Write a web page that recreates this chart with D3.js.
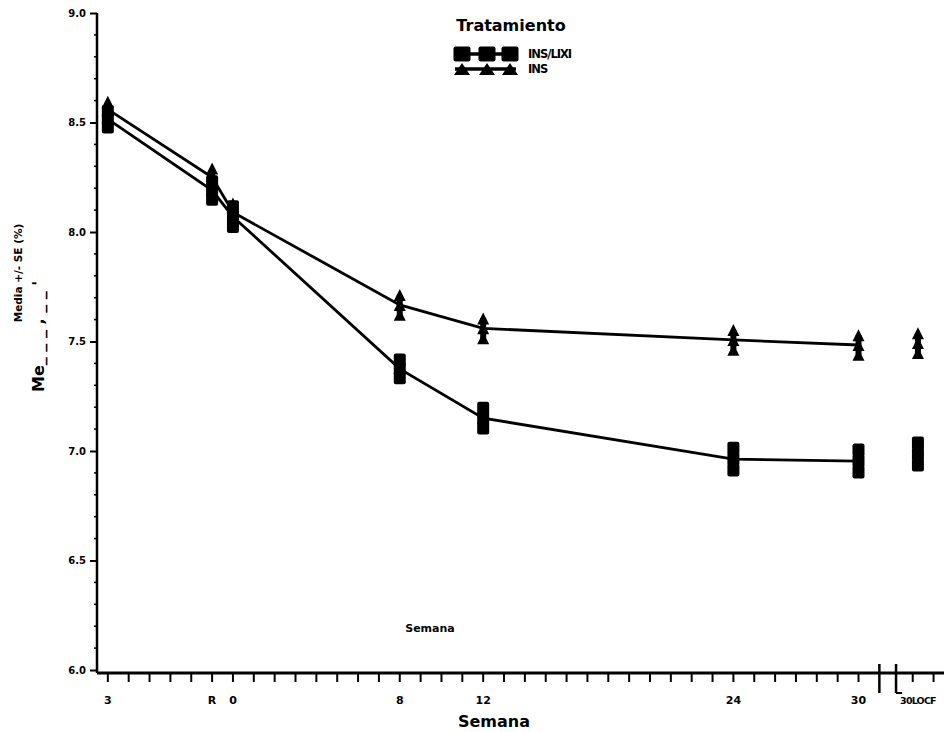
<!DOCTYPE html>
<html>
<head>
<meta charset="utf-8">
<script src="https://cdn.jsdelivr.net/npm/d3@7"></script>
<style>
  body { margin: 0; background: #fff; }
  svg { display: block; }
  text { font-family: "DejaVu Sans", sans-serif; fill: #000; }
</style>
</head>
<body>
<svg id="chart" width="944" height="732"></svg>
<script>
// weeks on the x axis and their printed labels
const weeks = [-6, -1, 0, 8, 12, 24, 30];
const weekLabels = ["3", "R", "0", "8", "12", "24", "30"];
const locfWeek = 32.85;
const locfLabel = "30LOCF";

// means and standard errors, HbA1c (%)
const insLixiMean = [8.515, 8.19, 8.07, 7.375, 7.15, 6.963, 6.954];
const insLixiSE = [0.035, 0.04, 0.045, 0.04, 0.045, 0.05, 0.05];
const insLixiLocf = { mean: 6.986, se: 0.05 };

const insMean = [8.56, 8.25, 8.09, 7.667, 7.56, 7.507, 7.484];
const insSE = [0.035, 0.04, 0.04, 0.045, 0.045, 0.045, 0.045];
const insLocf = { mean: 7.493, se: 0.045 };

const yTicks = [6.0, 6.5, 7.0, 7.5, 8.0, 8.5, 9.0];

const svg = d3.select("#chart");

const x = d3.scaleLinear().domain([-6.52, 34.1]).range([97, 944]);
const y = d3.scaleLinear().domain([6, 9]).range([670, 13]);
const axisY = 673;

// y axis
const yAxis = svg.append("g").attr("transform", "translate(97,0)");
yAxis.call(d3.axisLeft(y).tickValues(yTicks).tickFormat(d3.format(".1f")).tickSize(7).tickPadding(4));
yAxis.select(".domain").attr("d", `M0,${y(9)}V${axisY}`).attr("stroke-width", 2.5);
yAxis.selectAll(".tick line").attr("stroke-width", 2);
yAxis.selectAll(".tick text").attr("font-size", 10).attr("font-weight", "bold");
yAxis.append("g").selectAll("line")
  .data(d3.range(6.1, 9.0, 0.1).filter(v => Math.abs(v * 2 - Math.round(v * 2)) > 0.01))
  .join("line")
  .attr("x1", -3).attr("x2", 0)
  .attr("y1", d => y(d)).attr("y2", d => y(d))
  .attr("stroke", "#000").attr("stroke-width", 1.5);

// x axis: a tick every week, labels only at visits
const xAxis = svg.append("g").attr("transform", `translate(0,${axisY})`);
const minorWeeks = d3.range(-6, 31).concat([32.6, 33.6]);
xAxis.append("line").attr("x1", 97).attr("x2", 944).attr("stroke", "#000").attr("stroke-width", 3);
xAxis.selectAll("line.tk").data(minorWeeks).join("line").attr("class", "tk")
  .attr("x1", d => x(d)).attr("x2", d => x(d)).attr("y1", 0).attr("y2", 9)
  .attr("stroke", "#000").attr("stroke-width", 2);
xAxis.selectAll("text.lb").data(weeks).join("text").attr("class", "lb")
  .attr("x", d => x(d)).attr("y", 31)
  .attr("text-anchor", "middle").attr("font-size", 11).attr("font-weight", "bold")
  .text((d, i) => weekLabels[i]);
xAxis.append("text").attr("x", x(locfWeek)).attr("y", 31)
  .attr("text-anchor", "middle").attr("font-size", 9.5).attr("font-weight", "bold")
  .attr("letter-spacing", -0.8)
  .text(locfLabel);
// axis break
[31, 31.8].forEach(w => {
  xAxis.append("line").attr("x1", x(w)).attr("x2", x(w)).attr("y1", -9).attr("y2", 20)
    .attr("stroke", "#000").attr("stroke-width", 2.5);
});
xAxis.append("line").attr("x1", x(31.8)).attr("x2", x(31.8) + 6).attr("y1", 20).attr("y2", 20)
  .attr("stroke", "#000").attr("stroke-width", 2);

// axis titles
svg.append("text").attr("x", 494).attr("y", 727).attr("text-anchor", "middle")
  .attr("font-family", "Open Sans").attr("font-weight", 600).attr("font-size", 16)
  .text("Semana");
svg.append("text").attr("transform", "translate(22,273) rotate(-90)").attr("text-anchor", "middle")
  .attr("font-size", 10.5).attr("font-weight", "bold").text("Media +/- SE (%)");
svg.append("text").attr("transform", "translate(44,392) rotate(-90)").attr("text-anchor", "start")
  .attr("font-family", "Open Sans").attr("font-weight", 600).attr("font-size", 16)
  .text("Me_ _ _ ,  _ _ '");
svg.append("text").attr("x", 430).attr("y", 632).attr("text-anchor", "middle")
  .attr("font-size", 11).attr("font-weight", "bold").text("Semana");

// markers
const squarePath = (w, h) => `M${-w / 2},${-h / 2 + 2}q0,-2 2,-2h${w - 4}q2,0 2,2v${h - 4}q0,2 -2,2h${-(w - 4)}q-2,0 -2,-2z`;
const trianglePath = (w, h) => `M0,${-h / 2}L${w / 2},${h / 2}L${-w / 2},${h / 2}z`;

function drawSeries(mean, se, locf, shape) {
  const pts = weeks.map((w, i) => ({ w, m: mean[i], s: se[i] }));
  svg.append("path").datum(pts)
    .attr("fill", "none").attr("stroke", "#000").attr("stroke-width", 2.8)
    .attr("d", d3.line().x(d => x(d.w)).y(d => y(d.m)));
  const all = pts.concat([{ w: locfWeek, m: locf.mean, s: locf.se }]);
  const g = svg.append("g");
  all.forEach(p => {
    g.append("line").attr("x1", x(p.w)).attr("x2", x(p.w))
      .attr("y1", y(p.m - p.s)).attr("y2", y(p.m + p.s))
      .attr("stroke", "#000").attr("stroke-width", 6);
    [p.m - p.s, p.m, p.m + p.s].forEach(v => {
      g.append("path").attr("d", shape)
        .attr("transform", `translate(${x(p.w)},${y(v)})`).attr("fill", "#000");
    });
  });
}
drawSeries(insLixiMean, insLixiSE, insLixiLocf, squarePath(12, 13));
drawSeries(insMean, insSE, insLocf, trianglePath(12, 12));

// legend
const legend = svg.append("g");
legend.append("text").attr("x", 511).attr("y", 31).attr("text-anchor", "middle")
  .attr("font-family", "Open Sans").attr("font-weight", 600).attr("font-size", 16)
  .text("Tratamiento");
const legendRows = [
  { label: "INS/LIXI", shape: squarePath(17, 15), y: 54 },
  { label: "INS", shape: trianglePath(16, 12), y: 69 }
];
legendRows.forEach(r => {
  legend.append("line").attr("x1", 455).attr("x2", 516).attr("y1", r.y).attr("y2", r.y)
    .attr("stroke", "#000").attr("stroke-width", 3.5);
  [462, 487, 510].forEach(cx => {
    legend.append("path").attr("d", r.shape).attr("transform", `translate(${cx},${r.y})`).attr("fill", "#000");
  });
  legend.append("text").attr("x", 528).attr("y", r.y + 4).attr("font-size", 11.5)
    .attr("font-weight", "bold").attr("letter-spacing", -1).text(r.label);
});
</script>
</body>
</html>
